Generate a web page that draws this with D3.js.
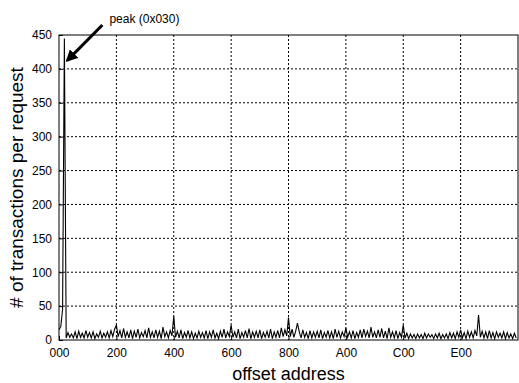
<!DOCTYPE html>
<html>
<head>
<meta charset="utf-8">
<script src="https://cdn.jsdelivr.net/npm/d3@7"></script>
<style>
  body { margin: 0; background: #fff; }
  svg { display: block; font-family: "Liberation Sans", Arial, sans-serif; }
</style>
</head>
<body>
<svg id="chart" width="519" height="383"></svg>
<script>
// offsets step 16 bytes, 0x000 .. 0xFF0 (one row per 0x100)
const step = 16;
const counts = [
  15, 20, 45, 445, 3, 11, 4, 9, 3, 12, 2, 13, 4, 10, 3, 14,
  4, 11, 3, 12, 2, 9, 4, 13, 3, 10, 4, 12, 3, 14, 5, 16,
  22, 5, 14, 3, 17, 4, 12, 3, 15, 2, 13, 4, 16, 3, 11, 5,
  14, 3, 18, 4, 12, 3, 15, 4, 13, 2, 19, 5, 12, 3, 14, 6,
  35, 4, 13, 3, 15, 2, 11, 4, 14, 3, 12, 2, 10, 3, 13, 4,
  11, 3, 14, 2, 12, 4, 15, 3, 10, 2, 13, 4, 16, 3, 12, 5,
  22, 4, 12, 3, 16, 2, 11, 4, 14, 3, 17, 2, 12, 4, 13, 3,
  15, 2, 11, 4, 13, 3, 16, 2, 12, 4, 14, 3, 18, 5, 15, 6,
  33, 5, 16, 4, 13, 25, 12, 3, 15, 4, 11, 2, 14, 3, 12, 4,
  13, 3, 15, 2, 11, 4, 14, 3, 12, 2, 16, 4, 13, 3, 12, 5,
  18, 4, 12, 3, 14, 2, 11, 4, 15, 3, 16, 5, 13, 3, 19, 4,
  12, 3, 15, 4, 17, 3, 13, 2, 18, 4, 12, 3, 14, 2, 11, 4,
  22, 3, 10, 2, 9, 3, 8, 2, 9, 3, 8, 2, 10, 3, 9, 4,
  8, 2, 9, 3, 10, 2, 8, 3, 9, 2, 11, 3, 10, 2, 12, 4,
  15, 3, 11, 2, 13, 4, 12, 3, 14, 6, 37, 4, 13, 3, 12, 2,
  14, 3, 11, 2, 12, 4, 10, 3, 12, 2, 11, 3, 9, 2, 10, 3
];
const xTicks = [0x000, 0x200, 0x400, 0x600, 0x800, 0xA00, 0xC00, 0xE00];
const yTicks = [0, 50, 100, 150, 200, 250, 300, 350, 400, 450];
const peakLabel = 'peak (0x030)';

const margin = {top: 35, right: 1, bottom: 43, left: 59};
const width = 519 - margin.left - margin.right;
const height = 383 - margin.top - margin.bottom;

const svg = d3.select('#chart');
const g = svg.append('g').attr('transform', `translate(${margin.left},${margin.top})`);

const x = d3.scaleLinear().domain([0, 4096]).range([0, width]);
const y = d3.scaleLinear().domain([0, 450]).range([height, 0]);

// gridlines
g.append('g')
  .selectAll('line')
  .data(xTicks.slice(1))
  .enter()
  .append('line')
  .attr('x1', d => x(d)).attr('x2', d => x(d))
  .attr('y1', 0).attr('y2', height)
  .attr('stroke', '#000').attr('stroke-width', 1)
  .attr('stroke-dasharray', '2,2');

g.append('g')
  .selectAll('line')
  .data(yTicks.slice(1, -1))
  .enter()
  .append('line')
  .attr('x1', 0).attr('x2', width)
  .attr('y1', d => y(d)).attr('y2', d => y(d))
  .attr('stroke', '#000').attr('stroke-width', 1)
  .attr('stroke-dasharray', '2,2');

// data line
const line = d3.line()
  .x((d, i) => x(i * step))
  .y(d => y(d));

g.append('path')
  .datum(counts)
  .attr('fill', 'none')
  .attr('stroke', '#000')
  .attr('stroke-width', 1.1)
  .attr('d', line);

// axes
const xAxis = d3.axisBottom(x)
  .tickValues(xTicks)
  .tickSize(-4)
  .tickPadding(8)
  .tickFormat(d => d.toString(16).toUpperCase().padStart(3, '0'));

g.append('g')
  .attr('transform', `translate(0,${height})`)
  .call(xAxis)
  .call(s => s.select('.domain').remove())
  .call(s => s.selectAll('text').attr('font-size', 12).attr('fill', '#000').attr('font-family', 'Liberation Sans, Arial, sans-serif'));

const yAxis = d3.axisLeft(y)
  .tickValues(yTicks)
  .tickSize(-4)
  .tickPadding(7);

g.append('g')
  .call(yAxis)
  .call(s => s.select('.domain').remove())
  .call(s => s.selectAll('text').attr('font-size', 12).attr('fill', '#000').attr('font-family', 'Liberation Sans, Arial, sans-serif'));

// frame
g.append('rect')
  .attr('x', 0).attr('y', 0)
  .attr('width', width).attr('height', height)
  .attr('fill', 'none').attr('stroke', '#000').attr('stroke-width', 1);

// axis titles
svg.append('text')
  .attr('x', margin.left + width / 2)
  .attr('y', 380)
  .attr('text-anchor', 'middle')
  .attr('font-size', 18)
  .text('offset address');

svg.append('text')
  .attr('transform', `translate(23,${margin.top + height / 2}) rotate(-90)`)
  .attr('text-anchor', 'middle')
  .attr('font-size', 19)
  .text('# of transactions per request');

// annotation arrow
const peakX = x(3 * step);
const peakY = y(counts[3]);
svg.append('defs').append('marker')
  .attr('id', 'head')
  .attr('viewBox', '0 0 10 10')
  .attr('refX', 8).attr('refY', 5)
  .attr('markerWidth', 4).attr('markerHeight', 4)
  .attr('orient', 'auto')
  .append('path')
  .attr('d', 'M0,0L10,5L0,10z')
  .attr('fill', '#000');

svg.append('line')
  .attr('x1', margin.left + peakX + 38).attr('y1', 25)
  .attr('x2', margin.left + peakX + 3).attr('y2', margin.top + peakY + 22)
  .attr('stroke', '#000').attr('stroke-width', 3)
  .attr('marker-end', 'url(#head)');

svg.append('text')
  .attr('x', margin.left + peakX + 45)
  .attr('y', 23)
  .attr('font-size', 12)
  .text(peakLabel);
</script>
</body>
</html>
